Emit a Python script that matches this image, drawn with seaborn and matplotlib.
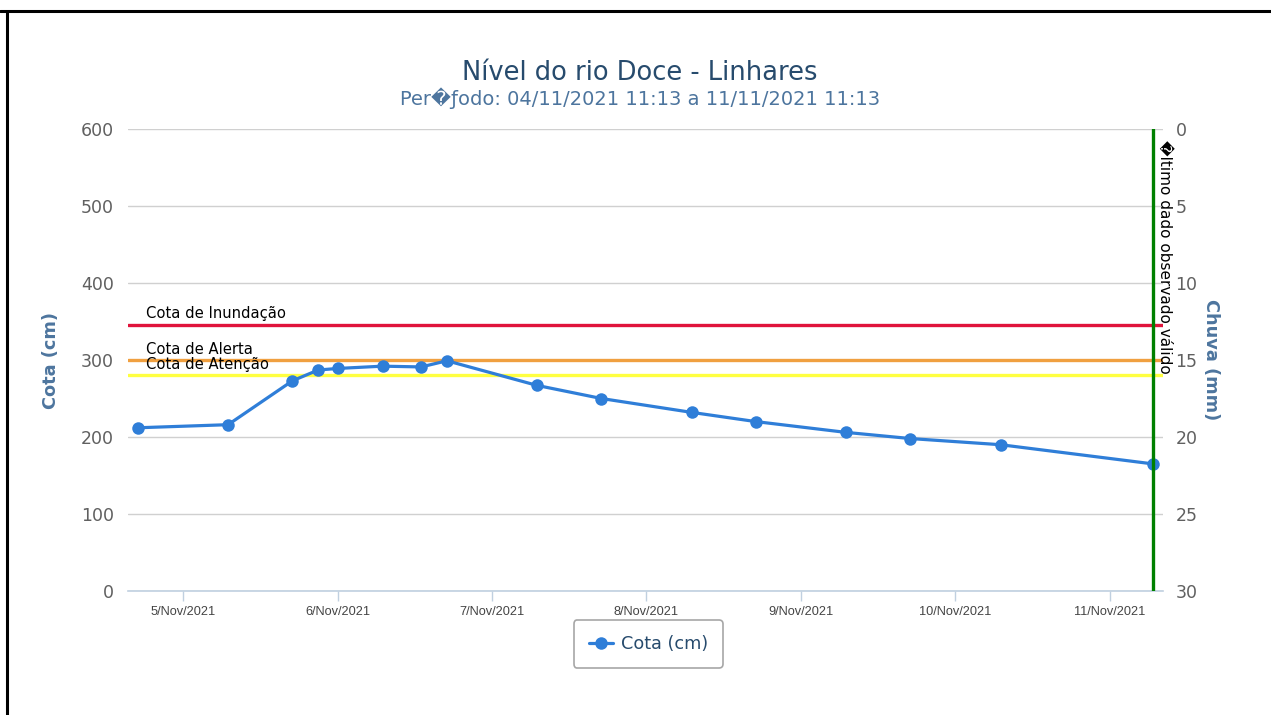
import matplotlib
matplotlib.use("Agg")
import matplotlib.pyplot as plt
import matplotlib.dates as mdates
from matplotlib.lines import Line2D
import seaborn as sns
import pandas as pd

# ---- data ----
times = ["2021-11-04 17:00", "2021-11-05 07:00", "2021-11-05 17:00", "2021-11-05 21:00",
         "2021-11-06 00:00", "2021-11-06 07:00", "2021-11-06 13:00", "2021-11-06 17:00",
         "2021-11-07 07:00", "2021-11-07 17:00", "2021-11-08 07:00", "2021-11-08 17:00",
         "2021-11-09 07:00", "2021-11-09 17:00", "2021-11-10 07:00", "2021-11-11 06:45"]
cota = [212, 216, 273, 287, 289, 292, 291, 299, 267, 250, 232, 220, 206, 198, 190, 165]

ref_names = ["Cota de Inundação", "Cota de Alerta", "Cota de Atenção"]
ref_values = [346, 300, 280]
ref_colors = ["#E0143C", "#F0A040", "#FFFF40"]

last_obs = "2021-11-11 06:45"
x_start = "2021-11-04 15:27"
x_end = "2021-11-11 08:14"

title = "Nível do rio Doce - Linhares"
subtitle = "Per\ufffdƒodo: 04/11/2021 11:13 a 11/11/2021 11:13"
last_label = "\ufffdltimo dado observado válido"
series_name = "Cota (cm)"

df = pd.DataFrame({"time": pd.to_datetime(times), "cota": cota})

sns.set_theme(style="white")
plt.rcParams["font.family"] = ["DejaVu Sans"]

fig = plt.figure(figsize=(12.71, 7.15), dpi=100)
ax = fig.add_axes([0.1007, 0.1734, 0.8143, 0.6462])

blue = "#2F7ED8"
sns.lineplot(data=df, x="time", y="cota", ax=ax, color=blue, linewidth=2.3,
             marker="o", markersize=9, markeredgewidth=0, label=series_name)

ax.set_ylim(0, 600)
ax.set_yticks(range(0, 601, 100))
ax.set_xlim(pd.Timestamp(x_start), pd.Timestamp(x_end))
ax.grid(axis="y", color="#D0D0D0", linewidth=1)
ax.grid(axis="x", visible=False)
for s in ["top", "right", "left"]:
    ax.spines[s].set_visible(False)
ax.spines["bottom"].set_color("#C0D0E0")
ax.spines["bottom"].set_linewidth(1.2)

ax.xaxis.set_major_locator(mdates.DayLocator())
ax.xaxis.set_major_formatter(plt.FuncFormatter(
    lambda v, p: mdates.num2date(v).strftime("%d/%b/%Y").lstrip("0")))
ax.tick_params(axis="x", direction="out", length=7, width=1, color="#C0D0E0",
               labelsize=9.2, labelcolor="#444444", pad=4, bottom=True)
for lab in ax.get_xticklabels():
    lab.set_fontfamily("Liberation Sans")
ax.tick_params(axis="y", length=0, labelsize=12.5, labelcolor="#606060", pad=10)

ax.set_xlabel("")
ax.set_ylabel("Cota (cm)", fontsize=12.8, fontweight="bold", color="#4D759E")
ax.yaxis.set_label_coords(-0.066, 0.5)

# reference lines
for name, val, col in zip(ref_names, ref_values, ref_colors):
    ax.axhline(val, color=col, linewidth=2.4, zorder=1.5)
    ax.annotate(name, xy=(0, val), xycoords=("axes fraction", "data"),
                xytext=(13, 2.5), textcoords="offset points",
                fontsize=10.6, color="black", ha="left", va="bottom")

# last observed line
t_last = pd.Timestamp(last_obs)
ax.axvline(t_last, color="#008000", linewidth=2.4, zorder=3)
ax.annotate(last_label, xy=(t_last, 600), xycoords="data",
            xytext=(3, -8), textcoords="offset points", rotation=-90,
            fontsize=11, color="black", ha="left", va="top")

# right axis
ax2 = ax.twinx()
ax2.set_ylim(30, 0)
ax2.set_yticks(range(0, 31, 5))
ax2.grid(False)
for s in ax2.spines.values():
    s.set_visible(False)
ax2.tick_params(axis="y", length=0, labelsize=12.5, labelcolor="#606060", pad=9)
ax2.set_ylabel("Chuva (mm)", fontsize=12.8, fontweight="bold", color="#4D759E",
               rotation=-90)
ax2.yaxis.set_label_coords(1.055, 0.5)

# legend
if ax.get_legend():
    ax.get_legend().remove()
h = [Line2D([0], [0], color=blue, linewidth=2.3, marker="o", markersize=9,
            markeredgewidth=0)]
leg = fig.legend(h, [series_name], loc="center", bbox_to_anchor=(0.51, 0.0993),
                 fontsize=12.7, frameon=True, fancybox=True, handlelength=1.4,
                 handletextpad=0.4, borderpad=0.85, labelcolor="#274B6D")
leg.get_frame().set_edgecolor("#909090")
leg.get_frame().set_linewidth(1.2)

# titles
fig.text(0.5035, 0.898, title, ha="center", va="center", fontsize=18.5, color="#274B6D")
fig.text(0.5035, 0.863, subtitle, ha="center", va="center", fontsize=14, color="#4D759E")

# screenshot border
fig.add_artist(Line2D([0, 1], [0.9853, 0.9853], color="black", linewidth=2.2,
                      transform=fig.transFigure))
fig.add_artist(Line2D([0.0055, 0.0055], [0, 0.9853], color="black", linewidth=2.2,
                      transform=fig.transFigure))

fig.savefig("out.png", dpi=100, facecolor="white")
